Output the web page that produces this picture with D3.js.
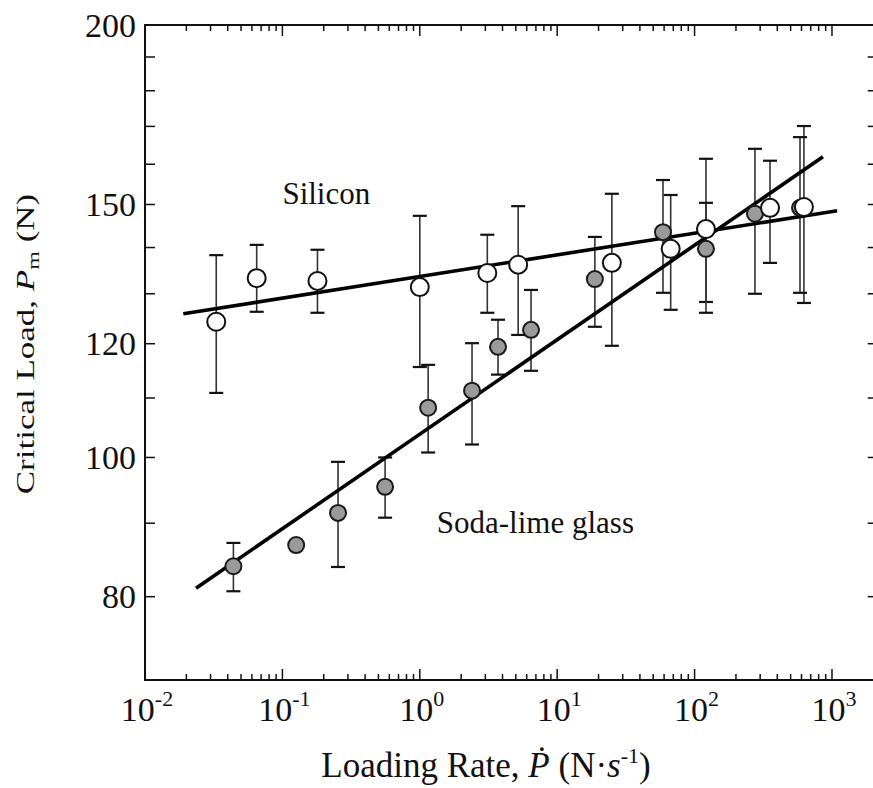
<!DOCTYPE html>
<html>
<head>
<meta charset="utf-8">
<script src="https://cdn.jsdelivr.net/npm/d3@7/dist/d3.min.js"></script>
<style>
	body { margin: 0; background: #fff; }
	svg { display: block; }
	text { font-family: "Liberation Serif", "Times New Roman", serif; fill: #111; }
</style>
</head>
<body>
<svg id="chart" width="873" height="788"></svg>
<script>
// silicon: loading rate (N/s), mean critical load and spread (N)
var siliconRate = [0.033, 0.065, 0.18, 1.0, 3.1, 5.2, 25, 67, 121, 354, 625];
var siliconLoad = [124.3, 133.3, 132.7, 131.4, 134.4, 136.2, 136.6, 139.7, 144.2, 149.2, 149.4];
var siliconHi   = [138.3, 140.6, 139.5, 147.3, 142.9, 149.6, 152.6, 152.3, 161.4, 160.9, 170.1];
var siliconLo   = [110.9, 126.3, 126.1, 115.6, 126.1, 121.7, 119.6, 126.7, 128.3, 136.6, 128.1];

// soda-lime glass
var glassRate = [0.044, 0.126, 0.254, 0.559, 1.15, 2.40, 3.71, 6.45, 18.8, 58.9, 121, 275, 585];
var glassLoad = [84.0, 86.9, 91.5, 95.4, 108.3, 111.3, 119.4, 122.7, 133.1, 143.5, 139.7, 147.8, 149.2];
var glassHi   = [87.2, null, 99.3, 100.0, 116.0, 120.1, 124.7, 130.8, 142.4, 156.0, 150.4, 164.0, 167.1];
var glassLo   = [80.7, null, 83.9, 90.8, 100.8, 102.1, 114.2, 114.9, 123.3, 130.2, 126.1, 130.0, 130.2];

// straight fits on the log-log axes, given by their end points
var siliconFitRate = [0.019, 1090];
var siliconFitLoad = [125.9, 148.5];
var glassFitRate = [0.0235, 860];
var glassFitLoad = [81.1, 161.9];

// load axis ticks and the ones that get a label
var loadTicks = [80, 90, 100, 110, 120, 130, 140, 150, 160, 170, 180, 190, 200];
var loadLabels = [80, 100, 120, 150, 200];
var rateLabels = [1e-2, 1e-1, 1e0, 1e1, 1e2, 1e3];

var svg = d3.select("#chart");

var x = d3.scaleLog().domain([1e-2, Math.pow(10, 3.3)]).range([145, 873.2]);
var y = d3.scaleLog().domain([70, 200]).range([680, 25]);

var x0 = x.range()[0], x1 = x.range()[1] + 1.5;
var yTop = y.range()[1], yBottom = y.range()[0];

// frame
svg.append("path")
	.attr("d", "M" + x1 + "," + yTop + "H" + x0 + "V" + yBottom + "H" + x1)
	.attr("fill", "none")
	.attr("stroke", "#111")
	.attr("stroke-width", 2);

// rate ticks, top and bottom, pointing inward
var rateTicks = x.ticks();
function isDecade(v){
	var e = Math.log10(v);
	return Math.abs(e - Math.round(e)) < 1e-6;
}
var tg = svg.append("g").attr("stroke", "#111").attr("stroke-width", 1.5);
rateTicks.forEach(function(v){
	var len = isDecade(v) ? 11 : 6;
	tg.append("line").attr("x1", x(v)).attr("x2", x(v)).attr("y1", yBottom).attr("y2", yBottom - len);
	tg.append("line").attr("x1", x(v)).attr("x2", x(v)).attr("y1", yTop).attr("y2", yTop + len);
});
loadTicks.forEach(function(v){
	tg.append("line").attr("x1", x0).attr("x2", x0 + 10).attr("y1", y(v)).attr("y2", y(v));
	tg.append("line").attr("x1", x1).attr("x2", x1 - 7).attr("y1", y(v)).attr("y2", y(v));
});

// tick labels
svg.append("g").selectAll("text")
	.data(loadLabels)
	.enter()
	.append("text")
	.attr("x", x0 - 9)
	.attr("y", function(d){ return y(d); })
	.attr("dy", "0.34em")
	.attr("text-anchor", "end")
	.attr("font-size", 34)
	.text(function(d){ return d; });

var xl = svg.append("g").selectAll("text")
	.data(rateLabels)
	.enter()
	.append("text")
	.attr("x", function(d){ return x(d) + 2; })
	.attr("y", 721)
	.attr("text-anchor", "middle")
	.attr("font-size", 34);
xl.append("tspan").text("10");
xl.append("tspan")
	.attr("font-size", 22)
	.attr("dy", -15)
	.text(function(d){ return Math.round(Math.log10(d)); });

// axis titles
var xt = svg.append("text")
	.attr("x", 486)
	.attr("y", 777)
	.attr("text-anchor", "middle")
	.attr("font-size", 35);
xt.append("tspan").text("Loading Rate, ");
xt.append("tspan").attr("font-style", "italic").text("\u1E56");
xt.append("tspan").text(" (N\u00B7");
xt.append("tspan").attr("font-style", "italic").text("s");
xt.append("tspan").attr("font-size", 22).attr("dy", -14).text("-1");
xt.append("tspan").attr("dy", 14).text(")");

var yt = svg.append("text")
	.attr("transform", "translate(34,344) rotate(-90) scale(1,0.72)")
	.attr("text-anchor", "middle")
	.attr("font-size", 35);
yt.append("tspan").text("Critical Load, ");
yt.append("tspan").attr("font-style", "italic").text("P");
yt.append("tspan").attr("font-size", 24).attr("dy", 7).text("m");
yt.append("tspan").attr("dy", -7).text(" (N)");

// error bars
function errorBars(rate, hi, lo){
	var g = svg.append("g");
	rate.forEach(function(r, i){
		if(hi[i] == null) return;
		var cx = x(r);
		g.append("line")
			.attr("x1", cx).attr("x2", cx)
			.attr("y1", y(hi[i])).attr("y2", y(lo[i]))
			.attr("stroke", "#333").attr("stroke-width", 1.6);
		[hi[i], lo[i]].forEach(function(v){
			g.append("line")
				.attr("x1", cx - 7).attr("x2", cx + 7)
				.attr("y1", y(v)).attr("y2", y(v))
				.attr("stroke", "#111").attr("stroke-width", 2.2);
		});
	});
}
errorBars(siliconRate, siliconHi, siliconLo);
errorBars(glassRate, glassHi, glassLo);

// fitted lines
var line = d3.line()
	.x(function(d){ return x(d[0]); })
	.y(function(d){ return y(d[1]); });
[[siliconFitRate, siliconFitLoad], [glassFitRate, glassFitLoad]].forEach(function(f){
	svg.append("path")
		.attr("d", line(d3.zip(f[0], f[1])))
		.attr("fill", "none")
		.attr("stroke", "#000")
		.attr("stroke-width", 3.6);
});

// markers
svg.append("g").selectAll("circle")
	.data(d3.zip(glassRate, glassLoad))
	.enter()
	.append("circle")
	.attr("cx", function(d){ return x(d[0]); })
	.attr("cy", function(d){ return y(d[1]); })
	.attr("r", 8)
	.attr("fill", "#9a9a9a")
	.attr("stroke", "#1a1a1a")
	.attr("stroke-width", 2);

svg.append("g").selectAll("circle")
	.data(d3.zip(siliconRate, siliconLoad))
	.enter()
	.append("circle")
	.attr("cx", function(d){ return x(d[0]); })
	.attr("cy", function(d){ return y(d[1]); })
	.attr("r", 9)
	.attr("fill", "#fff")
	.attr("stroke", "#111")
	.attr("stroke-width", 2);

// series labels
svg.append("text")
	.attr("x", x(0.1))
	.attr("y", y(150))
	.attr("font-size", 31)
	.text("Silicon");
svg.append("text")
	.attr("x", x(1.33))
	.attr("y", y(88.6))
	.attr("font-size", 31)
	.text("Soda-lime glass");
</script>
</body>
</html>
